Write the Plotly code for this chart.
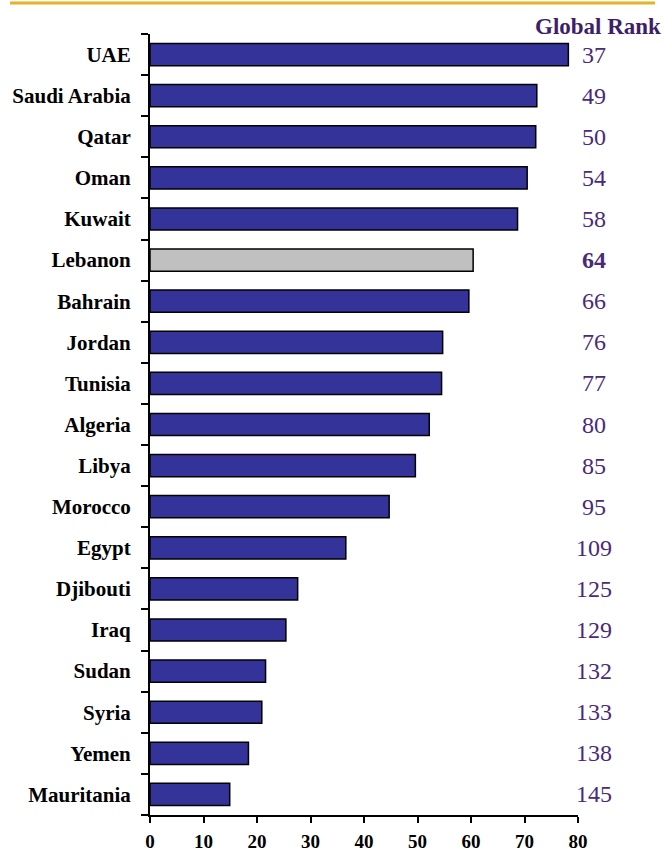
import plotly.graph_objects as go

# Index scores and global ranks, top to bottom
countries = ["UAE", "Saudi Arabia", "Qatar", "Oman", "Kuwait", "Lebanon", "Bahrain",
             "Jordan", "Tunisia", "Algeria", "Libya", "Morocco", "Egypt", "Djibouti",
             "Iraq", "Sudan", "Syria", "Yemen", "Mauritania"]
scores = [78.2, 72.3, 72.1, 70.5, 68.7, 60.4, 59.6, 54.7, 54.5, 52.2, 49.6, 44.7,
          36.6, 27.6, 25.4, 21.6, 20.9, 18.4, 14.9]
ranks = [37, 49, 50, 54, 58, 64, 66, 76, 77, 80, 85, 95, 109, 125, 129, 132, 133, 138, 145]
x_ticks = [0, 10, 20, 30, 40, 50, 60, 70, 80]

highlight = "Lebanon"
bar_colors = ["#C0C0C0" if c == highlight else "#333399" for c in countries]

SERIF = "Liberation Serif"
RANK_COLOR = "#4A2A7A"

fig = go.Figure()
fig.add_trace(go.Bar(
    x=scores, y=countries, orientation="h",
    marker=dict(color=bar_colors, line=dict(color="#000000", width=1.5)),
    width=0.54, hoverinfo="x+y",
))

# Rank labels to the right of the plot
for c, r in zip(countries, ranks):
    txt = f"<b>{r}</b>" if c == highlight else str(r)
    fig.add_annotation(
        x=1.037, xref="paper", y=c, yref="y", text=txt, showarrow=False,
        xanchor="center", yanchor="middle",
        font=dict(family=SERIF, size=24, color=RANK_COLOR),
    )

fig.add_annotation(
    x=1.199, xref="paper", y=1.0, yref="paper", yshift=8,
    text="<b>Global Rank</b>", showarrow=False, xanchor="right", yanchor="middle",
    font=dict(family=SERIF, size=23, color="#3C1E6C"),
)

# Gold rule across the top
fig.add_shape(type="line", xref="paper", yref="paper",
              x0=-0.327, x1=1.18, y0=1.0397, y1=1.0397,
              line=dict(color="#E0B423", width=3))

fig.update_layout(
    width=665, height=855,
    margin=dict(l=150, r=87, t=34, b=40, autoexpand=False),
    paper_bgcolor="white", plot_bgcolor="white",
    showlegend=False, bargap=0.46,
    font=dict(family=SERIF),
    xaxis=dict(
        range=[0, 80], tickvals=x_ticks, ticktext=[f"<b>{v}</b>" for v in x_ticks],
        showgrid=False, zeroline=False, showline=True, linecolor="black", linewidth=2,
        ticks="outside", ticklen=6, tickwidth=1.5, tickcolor="black",
        tickfont=dict(family=SERIF, size=19, color="black"),
        ticklabelstandoff=2, automargin=False,
    ),
    yaxis=dict(
        categoryorder="array", categoryarray=countries, autorange="reversed",
        showgrid=False, showline=True, linecolor="black", linewidth=2,
        ticks="outside", tickson="boundaries", ticklen=7, tickwidth=1.5, tickcolor="black",
        tickvals=countries, ticktext=[f"<b>{c}</b>" for c in countries],
        tickfont=dict(family=SERIF, size=21, color="black"),
        ticklabelstandoff=13, automargin=False,
    ),
)

fig.write_html("out.html")
